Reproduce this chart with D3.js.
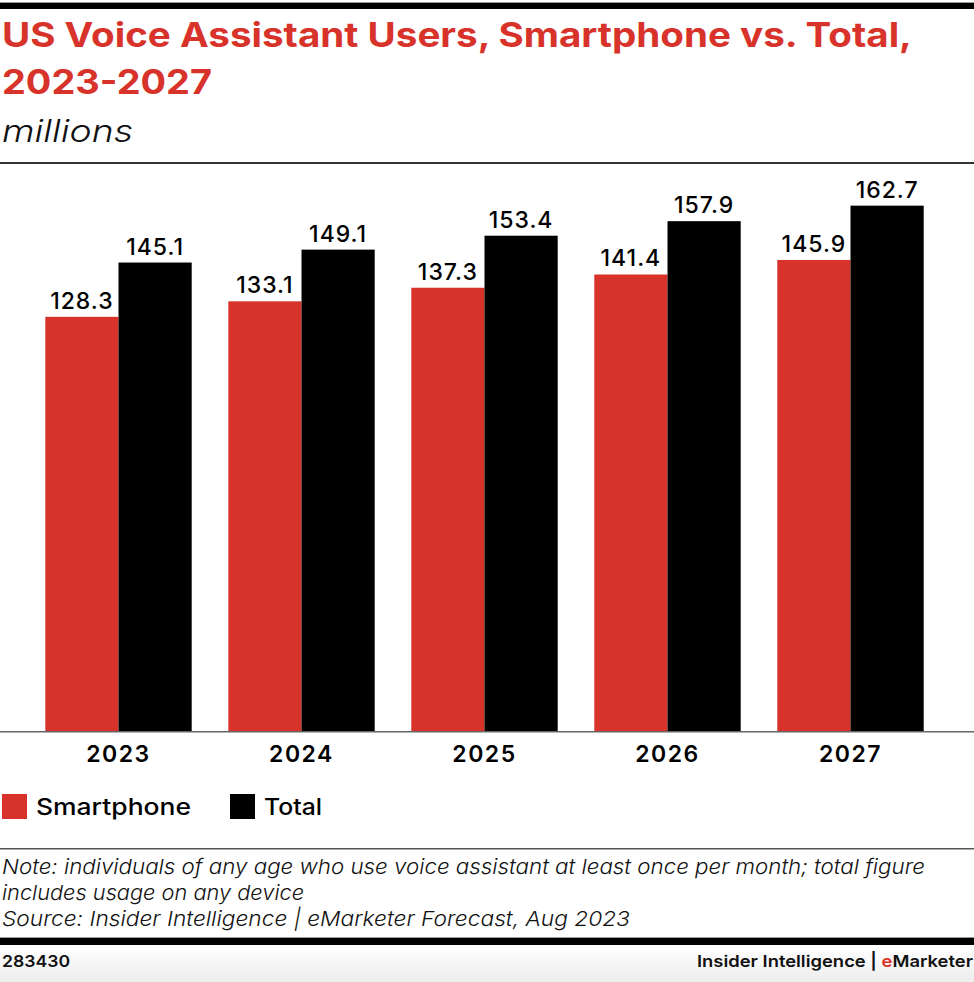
<!DOCTYPE html>
<html>
<head>
<meta charset="utf-8">
<script src="https://cdn.jsdelivr.net/npm/d3@7"></script>
<style>
  html, body { margin: 0; padding: 0; background: #fff; }
  svg { display: block; }
</style>
</head>
<body>
<svg id="chart" width="974" height="982"></svg>
<script>
const years = ["2023", "2024", "2025", "2026", "2027"];
const seriesNames = ["Smartphone", "Total"];
const smartphone = [128.3, 133.1, 137.3, 141.4, 145.9];
const total = [145.1, 149.1, 153.4, 157.9, 162.7];
const seriesColors = ["#d8332b", "#000000"];

const svg = d3.select("#chart");
const W = 974, H = 982;
const FONT = "Inter, 'Open Sans', sans-serif";
const RED = "#d8332b";

function fit(sel, len) {
  return sel.attr("textLength", len).attr("lengthAdjust", "spacingAndGlyphs");
}

// top rules
svg.append("rect").attr("x", 0).attr("y", 2).attr("width", W).attr("height", 1).attr("fill", "#999");
svg.append("rect").attr("x", 0).attr("y", 3).attr("width", W).attr("height", 6).attr("fill", "#000");

// title
fit(svg.append("text").attr("x", 2).attr("y", 47)
  .attr("font-family", FONT).attr("font-weight", 700).attr("font-size", 33.5)
  .attr("fill", RED)
  .text("US Voice Assistant Users, Smartphone vs. Total,"), 910);
fit(svg.append("text").attr("x", 2).attr("y", 94)
  .attr("font-family", FONT).attr("font-weight", 700).attr("font-size", 33.5)
  .attr("fill", RED)
  .text("2023-2027"), 210);
fit(svg.append("text").attr("x", 2).attr("y", 142)
  .attr("font-family", FONT).attr("font-style", "italic").attr("font-weight", 300).attr("font-size", 31)
  .attr("fill", "#111")
  .text("millions"), 131);

svg.append("rect").attr("x", 0).attr("y", 162).attr("width", W).attr("height", 2).attr("fill", "#333");

// scales
const baseY = 731.5;
const x0 = d3.scaleBand().domain(years).range([27, 942]).paddingInner(0.2).paddingOuter(0.1);
const x1 = d3.scaleBand().domain(seriesNames).range([0, x0.bandwidth()]);
const y = d3.scaleLinear().domain([0, 170]).range([baseY, baseY - 170 * 3.232]);

const rows = years.map((yr, i) => ({ year: yr, values: [smartphone[i], total[i]] }));

const g = svg.append("g");
const groups = g.selectAll("g.grp").data(rows).join("g")
  .attr("class", "grp")
  .attr("transform", d => `translate(${x0(d.year)},0)`);

groups.selectAll("rect").data(d => d.values.map((v, j) => ({ v, s: seriesNames[j], j })))
  .join("rect")
  .attr("x", d => x1(d.s))
  .attr("y", d => y(d.v))
  .attr("width", x1.bandwidth())
  .attr("height", d => y(0) - y(d.v))
  .attr("fill", d => seriesColors[d.j]);

groups.selectAll("text.val").data(d => d.values.map((v, j) => ({ v, s: seriesNames[j] })))
  .join("text")
  .attr("class", "val")
  .attr("x", d => x1(d.s) + x1.bandwidth() / 2)
  .attr("y", d => y(d.v) - 8)
  .attr("text-anchor", "middle")
  .attr("font-family", FONT).attr("font-weight", 500).attr("font-size", 23)
  .attr("letter-spacing", 1)
  .attr("fill", "#000")
  .text(d => d.v.toFixed(1));

// x axis
const xAxis = d3.axisBottom(x0).tickSize(0).tickPadding(14);
const ax = svg.append("g").attr("transform", `translate(0,${baseY})`).call(xAxis);
ax.select(".domain").remove();
ax.selectAll("text")
  .attr("font-family", FONT).attr("font-weight", 600).attr("font-size", 23)
  .attr("letter-spacing", 1.5).attr("fill", "#000");
svg.append("rect").attr("x", 0).attr("y", baseY - 0.5).attr("width", W).attr("height", 1.5).attr("fill", "#666");

// legend
const legendX = [2, 230];
const legendLen = [155, 58];
seriesNames.forEach((s, i) => {
  svg.append("rect").attr("x", legendX[i]).attr("y", 794).attr("width", 25).attr("height", 25)
    .attr("fill", seriesColors[i]);
  fit(svg.append("text").attr("x", legendX[i] + 34).attr("y", 815)
    .attr("font-family", FONT).attr("font-weight", 500).attr("font-size", 23).attr("fill", "#000")
    .text(s), legendLen[i]);
});

// note
svg.append("rect").attr("x", 0).attr("y", 848).attr("width", W).attr("height", 1.5).attr("fill", "#555");
const notes = [
  "Note: individuals of any age who use voice assistant at least once per month; total figure",
  "includes usage on any device",
  "Source: Insider Intelligence | eMarketer Forecast, Aug 2023"
];
const noteLen = [923, 302, 628];
notes.forEach((t, i) => {
  fit(svg.append("text").attr("x", 2).attr("y", 874 + i * 26)
    .attr("font-family", FONT).attr("font-style", "italic").attr("font-weight", 300).attr("font-size", 20.5)
    .attr("fill", "#111").text(t), noteLen[i]);
});

// footer
const defs = svg.append("defs");
const grad = defs.append("linearGradient").attr("id", "fg").attr("x1", 0).attr("y1", 0).attr("x2", 0).attr("y2", 1);
grad.append("stop").attr("offset", 0).attr("stop-color", "#ffffff");
grad.append("stop").attr("offset", 1).attr("stop-color", "#ededed");
svg.append("rect").attr("x", 0).attr("y", 945).attr("width", W).attr("height", H - 945).attr("fill", "url(#fg)");
svg.append("rect").attr("x", 0).attr("y", 937).attr("width", W).attr("height", 1).attr("fill", "#999");
svg.append("rect").attr("x", 0).attr("y", 938).attr("width", W).attr("height", 7).attr("fill", "#000");
fit(svg.append("text").attr("x", 2).attr("y", 967)
  .attr("font-family", FONT).attr("font-weight", 600).attr("font-size", 16.5).attr("fill", "#111")
  .text("283430"), 68);
const ft = svg.append("text").attr("x", 697).attr("y", 967)
  .attr("font-family", FONT).attr("font-weight", 600).attr("font-size", 16.5).attr("fill", "#111");
ft.append("tspan").text("Insider Intelligence | ");
ft.append("tspan").attr("fill", RED).text("e");
ft.append("tspan").text("Marketer");
fit(ft, 276);
</script>
</body>
</html>
